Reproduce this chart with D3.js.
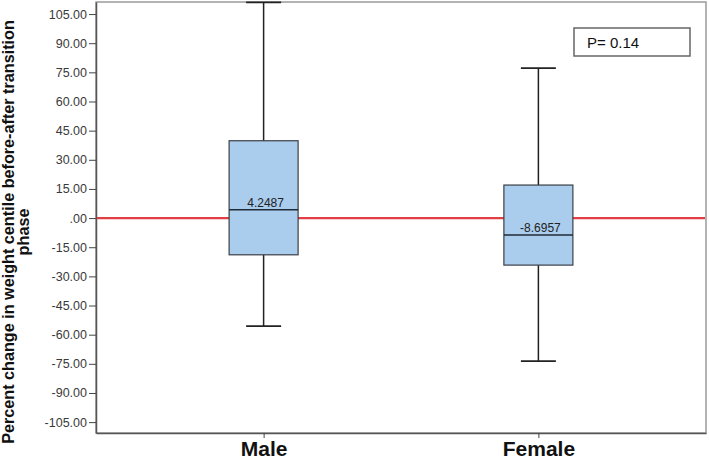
<!DOCTYPE html>
<head>
    <meta charset="utf-8">
    <script src="https://d3js.org/d3.v7.min.js"></script>
    <style>
      body { margin: 0; background: #fff; }
      text { font-family: Arial, "Liberation Sans", sans-serif; }
      .ticklbl { font-size: 12.5px; fill: #3a3a3a; }
      .grp { font-size: 21px; font-weight: bold; fill: #111; }
      .ytitle { font-size: 16.2px; font-weight: bold; fill: #111; }
      .medlbl { font-size: 12px; fill: #222; }
    </style>
<body>
    <script>
        // data
        var groups = ["Male", "Female"]
        var mins = [-55.6, -73.6]
        var q1s = [-18.9, -24.2]
        var medians = [4.2487, -8.6957]
        var q3s = [39.8, 17.0]
        var maxs = [111.0, 77.2]
        var yTicks = [105, 90, 75, 60, 45, 30, 15, 0, -15, -30, -45, -60, -75, -90, -105]
        var pText = "P= 0.14"

        var svg_w = 709, svg_h = 461
        var plotL = 96, plotR = 706, plotT = 2, plotB = 433

        var svg = d3.select("body").append("svg")
          .attr("width", svg_w)
          .attr("height", svg_h)

        var y = d3.scaleLinear().domain([-110.6, 111.2]).range([plotB, plotT])
        var x = d3.scalePoint().domain(groups).range([plotL, plotR]).padding(0.61)

        // frame
        svg.append("rect")
          .attr("x", plotL).attr("y", plotT)
          .attr("width", plotR-plotL).attr("height", plotB-plotT)
          .attr("fill", "none")
          .attr("stroke", "#9a9a9a")
          .attr("stroke-width", 1.5)

        // y axis
        var yAxis = svg.append("g")
          .attr("transform", "translate("+plotL+",0)")
          .call(d3.axisLeft(y).tickValues(yTicks).tickSize(7).tickSizeOuter(0).tickPadding(2)
            .tickFormat(function(d){ return d==0 ? ".00" : d.toFixed(2) }))
        yAxis.select(".domain").attr("stroke", "#555").attr("stroke-width", 1.5)
        yAxis.selectAll(".tick line").attr("stroke", "#444")
        yAxis.selectAll("text").attr("class", "ticklbl").attr("font-size", null).attr("font-family", null)

        // x axis
        var xAxis = svg.append("g")
          .attr("transform", "translate(0,"+plotB+")")
          .call(d3.axisBottom(x).tickSize(5).tickSizeOuter(0).tickPadding(3))
        xAxis.select(".domain").attr("stroke", "#555").attr("stroke-width", 1.5)
        xAxis.selectAll(".tick line").attr("stroke", "#444")
        xAxis.selectAll("text").attr("class", "grp").attr("font-size", null).attr("font-family", null)
          .attr("dy", "0.7em")

        // reference line
        svg.append("line")
          .attr("x1", plotL+1).attr("x2", plotR-1)
          .attr("y1", y(0)).attr("y2", y(0))
          .attr("stroke", "#e23f44")
          .attr("stroke-width", 2.2)

        var boxW = 69, capW = 35
        var data = groups.map(function(g, i){
          return {g: g, min: mins[i], q1: q1s[i], med: medians[i], q3: q3s[i], max: maxs[i]}
        })

        var boxes = svg.selectAll(".box").data(data).enter().append("g").classed("box", true)

        boxes.append("line")
          .attr("x1", function(d){ return x(d.g) }).attr("x2", function(d){ return x(d.g) })
          .attr("y1", function(d){ return y(d.max) }).attr("y2", function(d){ return y(d.min) })
          .attr("stroke", "#222").attr("stroke-width", 1.5)
        boxes.append("line")
          .attr("x1", function(d){ return x(d.g)-capW/2 }).attr("x2", function(d){ return x(d.g)+capW/2 })
          .attr("y1", function(d){ return y(d.max) }).attr("y2", function(d){ return y(d.max) })
          .attr("stroke", "#222").attr("stroke-width", 1.8)
        boxes.append("line")
          .attr("x1", function(d){ return x(d.g)-capW/2 }).attr("x2", function(d){ return x(d.g)+capW/2 })
          .attr("y1", function(d){ return y(d.min) }).attr("y2", function(d){ return y(d.min) })
          .attr("stroke", "#222").attr("stroke-width", 1.8)
        boxes.append("rect")
          .attr("x", function(d){ return x(d.g)-boxW/2 })
          .attr("y", function(d){ return y(d.q3) })
          .attr("width", boxW)
          .attr("height", function(d){ return y(d.q1)-y(d.q3) })
          .attr("fill", "#aacdee")
          .attr("stroke", "#3a3f45")
          .attr("stroke-width", 1.2)
        boxes.append("line")
          .attr("x1", function(d){ return x(d.g)-boxW/2 }).attr("x2", function(d){ return x(d.g)+boxW/2 })
          .attr("y1", function(d){ return y(d.med) }).attr("y2", function(d){ return y(d.med) })
          .attr("stroke", "#1e2a36").attr("stroke-width", 1.5)
        boxes.append("text")
          .attr("class", "medlbl")
          .attr("x", function(d){ return x(d.g)+2 })
          .attr("y", function(d){ return y(d.med)-3 })
          .attr("text-anchor", "middle")
          .text(function(d){ return d.med.toFixed(4) })

        // y title
        var yt = svg.append("text")
          .attr("class", "ytitle")
          .attr("transform", "translate(14,232) rotate(-90)")
          .attr("text-anchor", "middle")
        yt.append("tspan").attr("x", 0).attr("y", 0).text("Percent change in weight centile before-after transition")
        yt.append("tspan").attr("x", 0).attr("y", 15).text("phase")

        // P value box
        svg.append("rect")
          .attr("x", 574).attr("y", 28).attr("width", 116).attr("height", 28)
          .attr("fill", "#fff").attr("stroke", "#666").attr("stroke-width", 1.5)
        svg.append("text")
          .attr("x", 587).attr("y", 48)
          .attr("font-size", "15px")
          .attr("font-family", "Carlito, 'Open Sans', sans-serif")
          .attr("fill", "#111")
          .text(pText)
    </script>
</body>
